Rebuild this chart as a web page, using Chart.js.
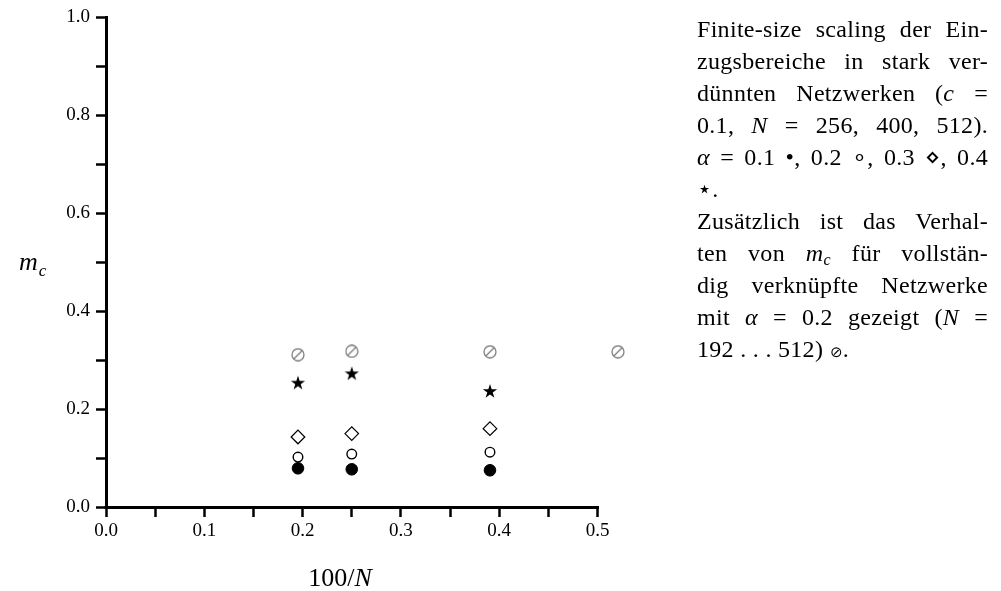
<!DOCTYPE html>
<html>
<head>
<meta charset="utf-8">
<script src="https://cdn.jsdelivr.net/npm/chart.js@4/dist/chart.umd.min.js"></script>
<style>
  html, body { margin: 0; padding: 0; background: #fff; }
  #wrap { position: relative; width: 1001px; height: 591px; overflow: hidden; }
  #plot { position: absolute; left: 0; top: 0; }
  #caption {
    position: absolute; left: 697px; top: 13px; width: 291px;
    font-family: "Liberation Serif", serif; font-size: 24px; line-height: 32px;
    letter-spacing: 0.3px; color: #000;
  }
  #caption .j { text-align: justify; text-align-last: justify; white-space: nowrap; }
  #caption .l { text-align: left; white-space: nowrap; }
  #caption sub { font-size: 16px; line-height: 0; vertical-align: -4px; }
  #caption .sm { font-size: 15px; }
</style>
</head>
<body>
<div id="wrap">
  <canvas id="plot" width="1001" height="591"></canvas>
  <div id="caption">
    <div class="j">Finite-size scaling der Ein-</div>
    <div class="j">zugsbereiche in stark ver-</div>
    <div class="j">dünnten Netzwerken (<i>c</i> =</div>
    <div class="j">0.1, <i>N</i> = 256, 400, 512).</div>
    <div class="j"><i>α</i> = 0.1 •, 0.2 ∘, 0.3 ⋄, 0.4</div>
    <div class="l">⋆.</div>
    <div class="j">Zusätzlich ist das Verhal-</div>
    <div class="j">ten von <i>m<sub>c</sub></i> für vollstän-</div>
    <div class="j">dig verknüpfte Netzwerke</div>
    <div class="j">mit <i>α</i> = 0.2 gezeigt (<i>N</i> =</div>
    <div class="l">192 . . . 512) <span class="sm">⊘</span>.</div>
  </div>
</div>
<script>
// 100/N for the diluted networks, N = 512, 400, 256
const invNDiluted = [0.1953, 0.25, 0.3906];
// 100/N for the fully connected networks, N = 192, 512, 400, 256
const invNFull = [0.5208, 0.1953, 0.25, 0.3906];

// m_c of the diluted networks (c = 0.1) for each storage level alpha
const mcAlpha01 = [0.079, 0.077, 0.075];
const mcAlpha02 = [0.102, 0.108, 0.112];
const mcAlpha03 = [0.143, 0.150, 0.160];
const mcAlpha04 = [0.254, 0.273, 0.237];
// m_c of the fully connected networks, alpha = 0.2 (same N order as invNFull)
const mcFull02 = [0.317, 0.311, 0.318, 0.317];

const xTickLabels = ['0.0', '0.1', '0.2', '0.3', '0.4', '0.5'];
const yTickLabels = ['0.0', '0.2', '0.4', '0.6', '0.8', '1.0'];
const xAxisEnd = 0.5;   // drawn extent of the horizontal axis
const xViewMax = 0.53;  // room for the N = 192 point

const pts = (xs, ys) => ys.map((y, i) => ({ x: xs[i], y }));

// five-pointed filled star marker
function starMarker(size) {
  const c = document.createElement('canvas');
  c.width = size; c.height = size;
  const g = c.getContext('2d');
  const cx = size / 2, cy = size / 2 + 0.6, ro = size / 2 - 0.5, ri = ro * 0.38;
  g.beginPath();
  for (let k = 0; k < 10; k++) {
    const r = k % 2 ? ri : ro;
    const a = -Math.PI / 2 + k * Math.PI / 5;
    g.lineTo(cx + r * Math.cos(a), cy + r * Math.sin(a));
  }
  g.closePath();
  g.fillStyle = '#000';
  g.fill();
  return c;
}

// circle with a diagonal stroke (⊘)
function slashMarker(size, color) {
  const c = document.createElement('canvas');
  c.width = size; c.height = size;
  const g = c.getContext('2d');
  const m = size / 2, r = size / 2 - 1;
  g.strokeStyle = color;
  g.lineWidth = 1.3;
  g.beginPath(); g.arc(m, m, r, 0, Math.PI * 2); g.stroke();
  const d = r * 0.72;
  g.beginPath(); g.moveTo(m - d, m + d); g.lineTo(m + d, m - d); g.stroke();
  return c;
}

const tickFont = { family: 'Liberation Serif', size: 19 };

// horizontal axis line from 0 to xAxisEnd, plus axis titles
const axisDecor = {
  id: 'axisDecor',
  beforeDatasetsDraw(chart) {
    const g = chart.ctx, xs = chart.scales.x, ys = chart.scales.y;
    const y0 = Math.round(ys.getPixelForValue(0)) + 0.5;
    g.save();
    g.strokeStyle = '#000';
    g.lineWidth = 3;
    g.beginPath();
    g.moveTo(xs.getPixelForValue(0) - 1.5, y0);
    g.lineTo(xs.getPixelForValue(xAxisEnd) + 1.5, y0);
    g.stroke();
    g.restore();
  },
  afterDraw(chart) {
    const g = chart.ctx;
    g.save();
    g.fillStyle = '#000';
    g.textBaseline = 'alphabetic';
    // m_c
    g.font = 'italic 26px "Liberation Serif"';
    g.fillText('m', 19, 270);
    const wm = g.measureText('m').width;
    g.font = 'italic 17px "Liberation Serif"';
    g.fillText('c', 19 + wm + 1, 276);
    // 100/N
    g.font = '26px "Liberation Serif"';
    const t = '100/';
    const wt = g.measureText(t).width;
    g.font = 'italic 26px "Liberation Serif"';
    const wn = g.measureText('N').width;
    const x0 = 340 - (wt + wn) / 2;
    g.font = '26px "Liberation Serif"';
    g.fillText(t, x0, 586);
    g.font = 'italic 26px "Liberation Serif"';
    g.fillText('N', x0 + wt, 586);
    g.restore();
  }
};

new Chart(document.getElementById('plot'), {
  type: 'scatter',
  data: {
    datasets: [
      { label: 'alpha 0.1', data: pts(invNDiluted, mcAlpha01), pointStyle: 'circle', pointRadius: 5.8,
        backgroundColor: '#000', borderColor: '#000', borderWidth: 1 },
      { label: 'alpha 0.2', data: pts(invNDiluted, mcAlpha02), pointStyle: 'circle', pointRadius: 4.8,
        backgroundColor: '#fff', borderColor: '#000', borderWidth: 1.4 },
      { label: 'alpha 0.3', data: pts(invNDiluted, mcAlpha03), pointStyle: 'rectRot', pointRadius: 6.8,
        backgroundColor: '#fff', borderColor: '#000', borderWidth: 1.2 },
      { label: 'alpha 0.4', data: pts(invNDiluted, mcAlpha04), pointStyle: starMarker(16),
        backgroundColor: '#000', borderColor: '#000' },
      { label: 'voll verknüpft, alpha 0.2', data: pts(invNFull, mcFull02), pointStyle: slashMarker(14, '#808080'),
        backgroundColor: '#808080', borderColor: '#808080' }
    ]
  },
  options: {
    responsive: false,
    animation: false,
    layout: { padding: { left: 0, top: 15, right: 374, bottom: 0 } },
    plugins: { legend: { display: false }, tooltip: { enabled: false } },
    scales: {
      x: {
        type: 'linear', min: 0, max: xViewMax,
        afterFit(s) { s.height = 84; },
        ticks: {
          stepSize: 0.05, includeBounds: false, color: '#000', font: tickFont, padding: 3,
          maxRotation: 0, autoSkip: false,
          callback(v) { const k = Math.round(v * 20); return k % 2 === 0 ? xTickLabels[k / 2] : ''; }
        },
        grid: { drawOnChartArea: false, drawTicks: true, tickLength: 10, tickWidth: 2.5, tickColor: '#000' },
        border: { display: false }
      },
      y: {
        type: 'linear', min: 0, max: 1,
        afterFit(s) { s.width = 106; },
        ticks: {
          stepSize: 0.1, color: '#000', font: tickFont, padding: 6, autoSkip: false,
          callback(v) { const k = Math.round(v * 10); return k % 2 === 0 ? yTickLabels[k / 2] : ''; }
        },
        grid: { drawOnChartArea: false, drawTicks: true, tickLength: 10, tickWidth: 2.5, tickColor: '#000' },
        border: { display: true, width: 3, color: '#000' }
      }
    }
  },
  plugins: [axisDecor]
});
</script>
</body>
</html>
